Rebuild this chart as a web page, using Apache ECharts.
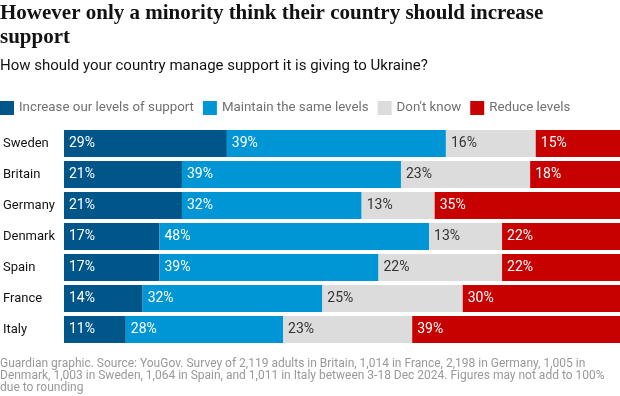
<!DOCTYPE html>
<html>
<head>
<meta charset="utf-8">
<script src="https://cdn.jsdelivr.net/npm/echarts@6/dist/echarts.min.js"></script>
<style>
  html, body { margin: 0; padding: 0; background: #fff; }
  #main { width: 620px; height: 396px; }
</style>
</head>
<body>
<div id="main"></div>
<script>
// 数据
var countries = ['Sweden', 'Britain', 'Germany', 'Denmark', 'Spain', 'France', 'Italy'];
var seriesNames = ['Increase our levels of support', 'Maintain the same levels', "Don't know", 'Reduce levels'];
var increase = [29, 21, 21, 17, 17, 14, 11];
var maintain = [39, 39, 32, 48, 39, 32, 28];
var dontKnow = [16, 23, 13, 13, 22, 25, 23];
var reduce = [15, 18, 35, 22, 22, 30, 39];

var colors = ['#005689', '#0096d6', '#dcdcdc', '#c70000'];
var labelColors = ['#fff', '#fff', '#333', '#fff'];
var sans = 'Roboto, "Noto Sans", sans-serif';

var myChart = echarts.init(document.getElementById('main'));

var allData = [increase, maintain, dontKnow, reduce];
var seriesData = [];
for (var i = 0; i < allData.length; i++) {
    seriesData.push({
        name: seriesNames[i],
        type: 'bar',
        stack: 'total',
        barCategoryGap: '13%',
        data: allData[i],
        itemStyle: { color: colors[i] },
        label: {
            show: true,
            position: 'insideLeft',
            distance: 5,
            formatter: '{c}%',
            color: labelColors[i],
            fontFamily: sans,
            fontSize: 14
        }
    });
}

var option = {
    backgroundColor: '#fff',
    animation: false,
    title: [
        {
            text: 'However only a minority think their country should increase\nsupport',
            left: 0,
            top: 2,
            padding: 0,
            textStyle: {
                fontFamily: '"Liberation Serif", serif',
                fontSize: 21,
                fontWeight: 'bold',
                lineHeight: 23.5,
                color: '#121212'
            }
        },
        {
            text: 'How should your country manage support it is giving to Ukraine?',
            left: 0,
            top: 59,
            padding: 0,
            textStyle: {
                fontFamily: sans,
                fontSize: 15,
                fontWeight: 'normal',
                color: '#121212'
            }
        },
        {
            text: 'Guardian graphic. Source: YouGov. Survey of 2,119 adults in Britain, 1,014 in France, 2,198 in Germany, 1,005 in\nDenmark, 1,003 in Sweden, 1,064 in Spain, and 1,011 in Italy between 3-18 Dec 2024. Figures may not add to 100%\ndue to rounding',
            left: 0,
            top: 358,
            padding: 0,
            textStyle: {
                fontFamily: sans,
                fontSize: 12,
                fontWeight: 'normal',
                lineHeight: 12,
                color: '#999'
            }
        }
    ],
    legend: {
        left: 0,
        top: 101,
        padding: 0,
        icon: 'rect',
        itemWidth: 14,
        itemHeight: 14,
        itemGap: 9,
        data: seriesNames,
        textStyle: {
            fontFamily: sans,
            fontSize: 13.3,
            color: '#707070'
        }
    },
    grid: {
        left: 63,
        right: 0,
        top: 128,
        bottom: 51,
        containLabel: false
    },
    xAxis: {
        type: 'value',
        min: 0,
        max: 99,
        show: false
    },
    yAxis: {
        type: 'category',
        data: countries,
        inverse: true,
        axisLine: { show: false },
        axisTick: { show: false },
        axisLabel: {
            align: 'left',
            margin: 61,
            fontFamily: sans,
            fontSize: 13,
            color: '#121212'
        }
    },
    series: seriesData
};

myChart.setOption(option);
</script>
</body>
</html>
